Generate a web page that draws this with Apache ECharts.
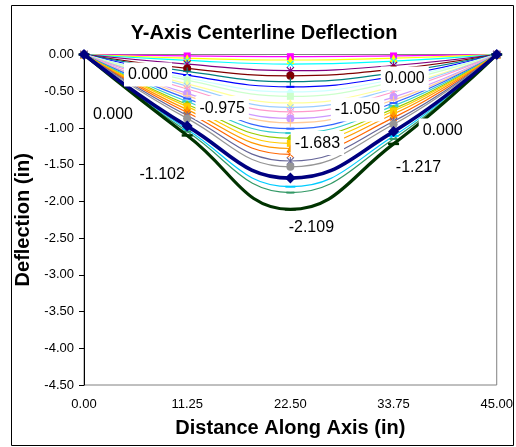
<!DOCTYPE html>
<html>
<head>
<meta charset="utf-8">
<script src="https://cdn.jsdelivr.net/npm/echarts@6/dist/echarts.min.js"></script>
<style>
  html, body { margin: 0; padding: 0; background: #fff; }
  #chart { width: 516px; height: 447px; }
</style>
</head>
<body>
<div id="chart"></div>
<script>
// distance along axis (in)
const distances = [0, 11.25, 22.5, 33.75, 45];
const xTicks = ['0.00', '11.25', '22.50', '33.75', '45.00'];

// deflection curves (in), one per load step
const defl01 = [0, -0.975, -1.683, -1.050, 0];   // navy, labelled
const defl02 = [0, -0.02, -0.03, -0.02, 0];
const defl03 = [0, -0.05, -0.075, -0.05, 0];
const defl04 = [0, -0.08, -0.13, -0.09, 0];
const defl05 = [0, -0.13, -0.22, -0.15, 0];
const defl06 = [0, -0.19, -0.29, -0.20, 0];
const defl07 = [0, -0.23, -0.37, -0.25, 0];
const defl08 = [0, -0.28, -0.44, -0.30, 0];
const defl09 = [0, -1.02, -1.80, -1.11, 0];
const defl10 = [0, -0.32, -0.51, -0.34, 0];
const defl11 = [0, -0.35, -0.57, -0.38, 0];
const defl12 = [0, -0.40, -0.66, -0.44, 0];
const defl13 = [0, -0.43, -0.72, -0.47, 0];
const defl14 = [0, -0.47, -0.78, -0.51, 0];
const defl15 = [0, -0.53, -0.87, -0.58, 0];
const defl16 = [0, -0.56, -0.93, -0.62, 0];
const defl17 = [0, -0.60, -1.01, -0.66, 0];
const defl18 = [0, -0.64, -1.07, -0.70, 0];
const defl19 = [0, -0.68, -1.14, -0.74, 0];
const defl20 = [0, -0.71, -1.21, -0.77, 0];
const defl21 = [0, -0.75, -1.28, -0.81, 0];
const defl22 = [0, -0.79, -1.36, -0.86, 0];
const defl23 = [0, -0.83, -1.45, -0.91, 0];
const defl24 = [0, -0.87, -1.53, -0.95, 0];
const defl26 = [0, -1.05, -1.88, -1.15, 0];
const defl27 = [0, -1.102, -2.109, -1.217, 0];  // dark green, labelled

const curves = [defl01, defl02, defl03, defl04, defl05, defl06, defl07, defl08, defl09,
  defl10, defl11, defl12, defl13, defl14, defl15, defl16, defl17, defl18, defl19,
  defl20, defl21, defl22, defl23, defl24, defl26, defl27];

// excel 2003 line palette
const colors = ['#000080', '#FF00FF', '#FFFF00', '#00FFFF', '#800080', '#800000', '#008080', '#0000FF',
  '#00CCFF', '#CCFFFF', '#CCFFCC', '#FFFF99', '#99CCFF', '#FF99CC', '#CC99FF', '#FFCC99',
  '#3366FF', '#33CCCC', '#99CC00', '#FFCC00', '#FF9900', '#FF6600', '#666699', '#969696',
  '#339966', '#003300'];

const X_MARK = 'path://M0,1L1,0L10,9L9,10ZM9,0L10,1L1,10L0,9Z';
const STAR = 'path://M0,1L1,0L10,9L9,10ZM9,0L10,1L1,10L0,9ZM4.4,0H5.6V10H4.4Z';
const PLUS = 'path://M4.3,0H5.7V4.3H10V5.7H5.7V10H4.3V5.7H0V4.3H4.3Z';
const markers = ['diamond', 'rect', 'triangle', X_MARK, STAR, 'circle', PLUS, 'rect', 'rect'];
const markerSizes = [8, 7, 8, 7, 8, 8, 8, [8, 2], [10, 2]];

// label offsets (from point) for the two labelled curves
const navyOffsets = [[64, 20], [35, -18], [27, -35], [-36, -22], [-92, 24]];
const greenOffsets = [[29, 60], [-25, 39], [21, 18], [25, 24], [-54, 76]];

const font = 'Liberation Sans, Arial, sans-serif';

function makeSeries(vals, i) {
  const last = i === curves.length - 1;
  const first = i === 0;
  const offs = first ? navyOffsets : (last ? greenOffsets : null);
  let mk = markers[i % 9], size = markerSizes[i % 9];
  if (last) { mk = 'rect'; size = [11, 2.5]; }
  if (i === curves.length - 2) { mk = 'rect'; size = [8, 2]; }
  return {
    type: 'line',
    smooth: 0.45,
    z: first ? 5 : (last ? 4 : 2),
    symbol: mk,
    symbolSize: first ? 11 : size,
    lineStyle: { color: colors[i], width: first ? 3.6 : (last ? 3.2 : 1.2) },
    itemStyle: { color: colors[i] },
    emphasis: { disabled: true },
    data: vals.map((v, k) => {
      const d = { value: [distances[k], v] };
      if (offs) {
        d.label = {
          show: true,
          position: 'inside',
          offset: offs[k],
          formatter: v.toFixed(3),
          fontFamily: font,
          fontSize: 16,
          color: '#000',
          backgroundColor: '#fff',
          padding: [4, 4]
        };
      }
      return d;
    })
  };
}

const chart = echarts.init(document.getElementById('chart'));
chart.setOption({
  animation: false,
  grid: {
    left: 84, right: 19, top: 54.5, bottom: 62,
    show: true, borderColor: '#808080', borderWidth: 1
  },
  graphic: [
    { type: 'rect', shape: { x: 11.5, y: 5.5, width: 502, height: 440 },
      style: { fill: 'none', stroke: '#000', lineWidth: 1 }, z: -1 },
    { type: 'text', x: 264, y: 33,
      style: { text: 'Y-Axis Centerline Deflection', font: 'bold 20px ' + font,
        fill: '#000', align: 'center', verticalAlign: 'middle' } }
  ],
  xAxis: {
    type: 'value', min: 0, max: 45, interval: 11.25,
    name: 'Distance Along Axis (in)', nameLocation: 'middle', nameGap: 33,
    nameTextStyle: { fontFamily: font, fontSize: 20, fontWeight: 'bold', color: '#000' },
    axisLine: { show: false },
    axisTick: { show: false },
    splitLine: { show: false },
    axisLabel: {
      margin: 13, fontFamily: font, fontSize: 13, color: '#000',
      formatter: v => xTicks[distances.indexOf(v)] || v.toFixed(2)
    }
  },
  yAxis: {
    type: 'value', min: -4.5, max: 0, interval: 0.5,
    name: 'Deflection (in)', nameLocation: 'middle', nameGap: 46,
    nameTextStyle: { fontFamily: font, fontSize: 20, fontWeight: 'bold', color: '#000' },
    axisLine: { show: true, lineStyle: { color: '#000' } },
    axisTick: { show: true, inside: false, length: 5, lineStyle: { color: '#000' } },
    splitLine: { show: false },
    axisLabel: { margin: 10, fontFamily: font, fontSize: 13, color: '#000',
      formatter: v => v.toFixed(2) }
  },
  series: curves.map(makeSeries)
});
</script>
</body>
</html>
